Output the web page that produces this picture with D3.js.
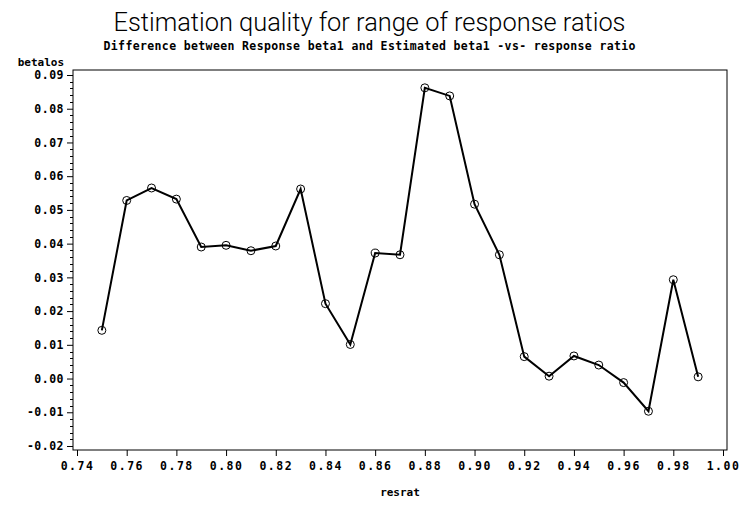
<!DOCTYPE html>
<html>
<head>
<meta charset="utf-8">
<script src="https://cdn.jsdelivr.net/npm/d3@7"></script>
<style>
  body { margin: 0; background: #fff; }
  .tick text { font-family: "DejaVu Sans Mono", "Liberation Mono", monospace; font-weight: bold; }
</style>
</head>
<body>
<div id="chart"></div>
<script>
// data
const resrat = [0.75, 0.76, 0.77, 0.78, 0.79, 0.80, 0.81, 0.82, 0.83, 0.84, 0.85, 0.86, 0.87,
    0.88, 0.89, 0.90, 0.91, 0.92, 0.93, 0.94, 0.95, 0.96, 0.97, 0.98, 0.99];
const betalos = [0.0143, 0.0528, 0.0565, 0.0532, 0.0390, 0.0395, 0.0379, 0.0393, 0.0562,
    0.0222, 0.0101, 0.0372, 0.0367, 0.0862, 0.0838, 0.0517, 0.0367, 0.0065, 0.0007,
    0.0067, 0.0040, -0.0012, -0.0097, 0.0293, 0.0005];
const xTicks = [0.74, 0.76, 0.78, 0.80, 0.82, 0.84, 0.86, 0.88, 0.90, 0.92, 0.94, 0.96, 0.98, 1.00];
const yTicks = [-0.02, -0.01, 0.00, 0.01, 0.02, 0.03, 0.04, 0.05, 0.06, 0.07, 0.08, 0.09];
const titleText = "Estimation quality for range of response ratios";
const subtitleText = "Difference between Response beta1 and Estimated beta1 -vs- response ratio";
const xLabel = "resrat";
const yLabel = "betalos";

// page size and frame
const W = 739, H = 506;
const frame = {left: 73, right: 727, top: 70, bottom: 450};

const svg = d3.select("#chart")
    .append("svg")
    .attr("width", W)
    .attr("height", H);

// scales (SAS leaves a little offset between frame and the end ticks)
const x = d3.scaleLinear()
    .domain([0.74, 1.00])
    .range([frame.left + 4, frame.right - 4]);
const y = d3.scaleLinear()
    .domain([-0.02, 0.09])
    .range([frame.bottom - 4, frame.top + 5]);

const fmt = v => d3.format(".2f")(v).replace("\u2212", "-");

// titles
svg.append("text")
    .attr("x", W / 2)
    .attr("y", 31)
    .attr("text-anchor", "middle")
    .attr("textLength", 512)
    .attr("lengthAdjust", "spacingAndGlyphs")
    .style("font-family", "Roboto, 'Liberation Sans', sans-serif")
    .style("font-weight", 300)
    .style("font-size", "25px")
    .text(titleText);

svg.append("text")
    .attr("x", W / 2)
    .attr("y", 50)
    .attr("text-anchor", "middle")
    .attr("textLength", 532)
    .style("font-family", "'DejaVu Sans Mono', monospace")
    .style("font-weight", "bold")
    .style("font-size", "11.5px")
    .text(subtitleText);

// frame
svg.append("rect")
    .attr("x", frame.left)
    .attr("y", frame.top)
    .attr("width", frame.right - frame.left)
    .attr("height", frame.bottom - frame.top)
    .attr("fill", "none")
    .attr("stroke", "#000")
    .attr("stroke-width", 1);

// minor y ticks, 4 between majors
const minor = d3.range(-0.02, 0.0901, 0.002).filter(v => Math.abs(Math.round(v * 500) % 5) !== 0);
svg.append("g")
    .selectAll("line")
    .data(minor)
    .join("line")
    .attr("x1", frame.left - 3)
    .attr("x2", frame.left)
    .attr("y1", d => Math.round(y(d)) + 0.5)
    .attr("y2", d => Math.round(y(d)) + 0.5)
    .attr("stroke", "#000");

// y axis
const yAxis = svg.append("g")
    .attr("transform", `translate(${frame.left}, 0)`)
    .call(d3.axisLeft(y).tickValues(yTicks).tickFormat(fmt).tickSize(6).tickPadding(3));
yAxis.select(".domain").remove();
yAxis.selectAll(".tick text").style("font-size", "11.5px").attr("letter-spacing", "0.5");

// x axis
const xAxis = svg.append("g")
    .attr("transform", `translate(0, ${frame.bottom})`)
    .call(d3.axisBottom(x).tickValues(xTicks).tickFormat(fmt).tickSize(6).tickPadding(6));
xAxis.select(".domain").remove();
xAxis.selectAll(".tick text").style("font-size", "11.5px").attr("letter-spacing", "1.5");

// axis labels
svg.append("text")
    .attr("x", frame.left - 9)
    .attr("y", 66)
    .attr("text-anchor", "end")
    .style("font-family", "'DejaVu Sans Mono', monospace")
    .style("font-weight", "bold")
    .style("font-size", "11px")
    .text(yLabel);

svg.append("text")
    .attr("x", (frame.left + frame.right) / 2)
    .attr("y", 496)
    .attr("text-anchor", "middle")
    .style("font-family", "'DejaVu Sans Mono', monospace")
    .style("font-weight", "bold")
    .style("font-size", "11px")
    .text(xLabel);

// line and markers
const points = resrat.map((r, i) => ({r: r, b: betalos[i]}));

svg.append("path")
    .datum(points)
    .attr("fill", "none")
    .attr("stroke", "#000")
    .attr("stroke-width", 2)
    .attr("d", d3.line()
        .x(d => x(d.r))
        .y(d => y(d.b)));

svg.append("g")
    .selectAll("circle")
    .data(points)
    .join("circle")
    .attr("cx", d => x(d.r))
    .attr("cy", d => y(d.b))
    .attr("r", 4)
    .attr("fill", "none")
    .attr("stroke", "#000")
    .attr("stroke-width", 1);
</script>
</body>
</html>
